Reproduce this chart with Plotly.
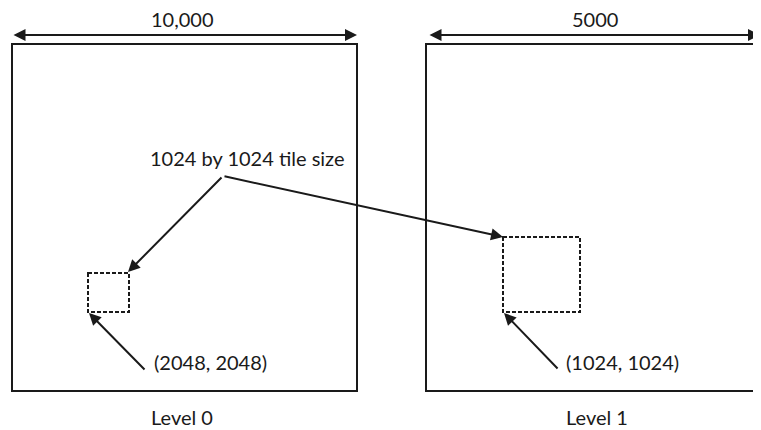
import plotly.graph_objects as go

# ---- content ----
level_labels = ["Level 0", "Level 1"]
width_labels = ["10,000", "5000"]
tile_label = "1024 by 1024 tile size"
origin_labels = ["(2048, 2048)", "(1024, 1024)"]

# ---- layout geometry (screen pixel space) ----
W, H = 761, 430
OFF = 8  # page body margin
big_boxes = [(12, 357, 44, 391), (426, 764, 44, 391)]
tiles = [(88, 129, 273, 312), (503, 580, 237, 312)]
dim_y = 35
dim_spans = [(12, 357), (428, 760)]
dim_text_pos = [(182, 19), (595, 19)]
level_text_pos = [(182, 417), (597, 417)]
origin_text_pos = [(210, 362), (622, 362)]
origin_tails = [(146, 371), (559, 370)]
tile_text_pos = (247, 158)
vertex = (223, 176)

FONT = "Lato, 'Open Sans', sans-serif"
INK = "#1a1a1a"

fig = go.Figure()
fig.add_trace(go.Scatter(x=[OFF, W], y=[OFF, H], mode="markers",
                         marker=dict(opacity=0), hoverinfo="skip", showlegend=False))

shapes = []
for (x0, x1, y0, y1) in big_boxes:
    shapes.append(dict(type="rect", xref="x", yref="y", x0=x0, x1=x1, y0=y0, y1=y1,
                       line=dict(color=INK, width=2)))
for (x0, x1, y0, y1) in tiles:
    shapes.append(dict(type="rect", xref="x", yref="y", x0=x0, x1=x1, y0=y0, y1=y1,
                       line=dict(color=INK, width=2, dash="4px,2px")))

ann = []
txt = dict(size=20, family=FONT, color=INK)
# dimension arrows
for (xa, xb), lab, (tx, ty) in zip(dim_spans, width_labels, dim_text_pos):
    ann.append(dict(x=xb, y=dim_y, ax=xa, ay=dim_y, xref="x", yref="y", axref="x", ayref="y",
                    text="", showarrow=True, arrowhead=2, startarrowhead=2, arrowside="end+start",
                    arrowwidth=2, arrowsize=1.2, startarrowsize=1.2, arrowcolor=INK,
                    standoff=0, startstandoff=0))
    ann.append(dict(x=tx, y=ty, xref="x", yref="y", text=lab, showarrow=False, font=txt))

# level labels
for lab, (tx, ty) in zip(level_labels, level_text_pos):
    ann.append(dict(x=tx, y=ty, xref="x", yref="y", text=lab, showarrow=False, font=txt))

# tile label and its two arrows
ann.append(dict(x=tile_text_pos[0], y=tile_text_pos[1], xref="x", yref="y", text=tile_label,
                showarrow=False, font=txt))
tips = [(tiles[0][1] - 1, tiles[0][2] - 1), (tiles[1][0], tiles[1][2])]
for (hx, hy) in tips:
    ann.append(dict(x=hx, y=hy, ax=vertex[0], ay=vertex[1], xref="x", yref="y",
                    axref="x", ayref="y", text="", showarrow=True, arrowhead=2,
                    arrowwidth=2, arrowsize=1.2, arrowcolor=INK, standoff=0))

# origin labels and arrows to tile corners
for lab, (tx, ty), (sx, sy), t in zip(origin_labels, origin_text_pos, origin_tails, tiles):
    ann.append(dict(x=tx, y=ty, xref="x", yref="y", text=lab, showarrow=False, font=txt))
    ann.append(dict(x=t[0] + 1, y=t[3] + 1, ax=sx, ay=sy, xref="x", yref="y",
                    axref="x", ayref="y", text="", showarrow=True, arrowhead=2,
                    arrowwidth=2, arrowsize=1.2, arrowcolor=INK, standoff=0))

fig.update_layout(
    width=W - OFF, height=H - OFF, margin=dict(l=0, r=0, t=0, b=0),
    paper_bgcolor="white", plot_bgcolor="white",
    xaxis=dict(range=[OFF, W], visible=False, fixedrange=True),
    yaxis=dict(range=[H, OFF], visible=False, fixedrange=True),
    shapes=shapes, annotations=ann, showlegend=False,
)

fig.write_html("out.html")
